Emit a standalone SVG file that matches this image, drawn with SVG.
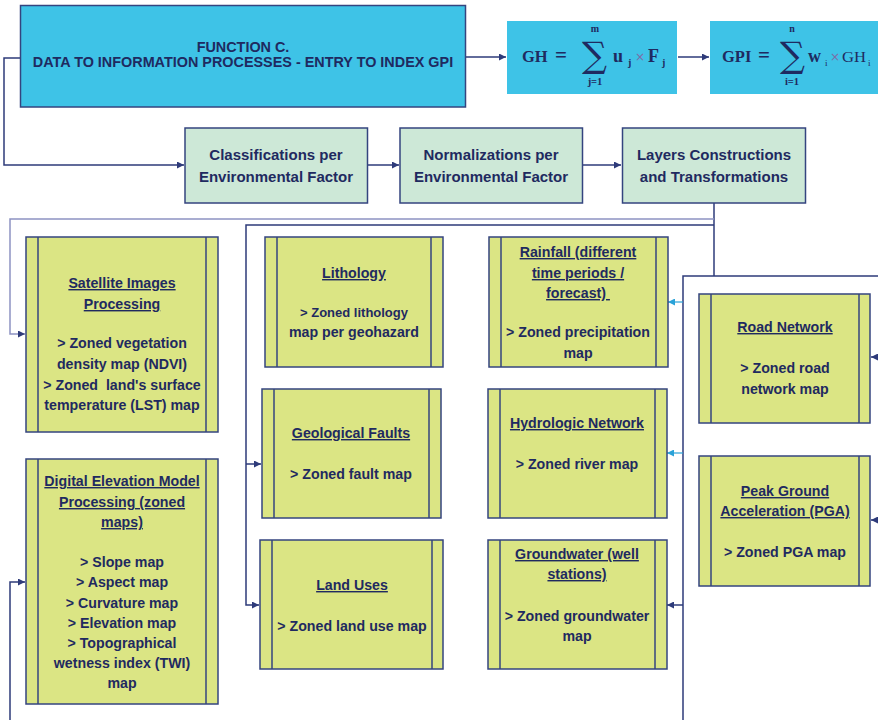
<svg xmlns="http://www.w3.org/2000/svg" width="878" height="720" viewBox="0 0 878 720">
  <style>
    .t { font-family: "Liberation Sans", Arial, sans-serif; font-weight: bold; fill: #1f2a60; text-anchor: middle; }
    .s14 { font-size: 14.2px; }
    .s15 { font-size: 15px; }
    .u { text-decoration: underline; }
    .cyan { fill: #3ec3e7; stroke: #34447f; stroke-width: 1.5; }
    .cyanf { fill: #3ec3e7; }
    .mint { fill: #cde8d7; stroke: #34447f; stroke-width: 1.5; }
    .proc { fill: #dbe584; stroke: #34447f; stroke-width: 1.5; }
    .bar { stroke: #34447f; stroke-width: 1.5; }
    .m { font-family: "Liberation Serif", "Times New Roman", serif; fill: #1f2a60; }
    .sig { font-family: "DejaVu Serif", serif; fill: #1f2a60; font-size: 35px; }
    .mb { font-weight: bold; }
    .x { font-family: "DejaVu Sans", sans-serif; fill: #7d6ca8; font-size: 12px; }
    .ln { fill: none; stroke: #2e3b7a; stroke-width: 1.5; }
    .lt { fill: none; stroke: #8d92c2; stroke-width: 1.5; }
    .lb { fill: none; stroke: #2aa2d8; stroke-width: 1.2; }
  </style>
  <defs>
    <marker id="ah" viewBox="0 0 10 10" refX="10" refY="5" markerWidth="7" markerHeight="7" markerUnits="userSpaceOnUse" orient="auto">
      <path d="M0,0 L10,5 L0,10 z" fill="#2e3b7a"/>
    </marker>
    <marker id="ahb" viewBox="0 0 10 10" refX="10" refY="5" markerWidth="7" markerHeight="7" markerUnits="userSpaceOnUse" orient="auto">
      <path d="M0,0 L10,5 L0,10 z" fill="#2aa2d8"/>
    </marker>
  </defs>

  <!-- connectors -->
  <g id="connectors">
    <path class="ln" d="M20,58 H4 V165 H184" marker-end="url(#ah)"/>
    <path class="ln" d="M466,57 H506" marker-end="url(#ah)"/>
    <path class="ln" d="M678,57 H709" marker-end="url(#ah)"/>
    <path class="ln" d="M368,165 H399" marker-end="url(#ah)"/>
    <path class="ln" d="M583,165 H621" marker-end="url(#ah)"/>
    <path class="ln" d="M714,203 V276"/>
    <path class="ln" d="M683,720 V276 H878"/>
    <path class="lt" d="M714,219 H10 V334 H25" marker-end="url(#ah)"/>
    <path class="ln" d="M714,225 H246 V605 H259" marker-end="url(#ah)"/>
    <path class="ln" d="M246,464 H261" marker-end="url(#ah)"/>
    <path class="lb" d="M683,302 H668" marker-end="url(#ahb)"/>
    <path class="lb" d="M683,453 H667" marker-end="url(#ahb)"/>
    <path class="ln" d="M683,605 H667" marker-end="url(#ah)"/>
    <path class="ln" d="M878,357 H871" marker-end="url(#ah)"/>
    <path class="ln" d="M878,520 H871" marker-end="url(#ah)"/>
    <path class="ln" d="M10,720 V582 H25" marker-end="url(#ah)"/>
  </g>

  <!-- top row -->
  <g id="function-c">
    <rect class="cyan" x="20.5" y="5.5" width="445" height="101.5"/>
    <text class="t" x="243" y="52" font-size="14.4">FUNCTION C.</text>
    <text class="t" x="243" y="67" font-size="14.4">DATA TO INFORMATION PROCESSES - ENTRY TO INDEX GPI</text>
  </g>

  <g id="gh">
    <rect class="cyanf" x="507" y="21" width="170" height="73"/>
    <text class="m mb" x="522" y="62" font-size="16.5">GH</text>
    <text class="m mb" x="555" y="62" font-size="21">=</text>
    <text class="sig" x="582" y="67">∑</text>
    <text class="m mb" x="595" y="32" font-size="10" text-anchor="middle">m</text>
    <text class="m mb" x="595" y="85" font-size="10.5" text-anchor="middle">j=1</text>
    <text class="m mb" x="613" y="62" font-size="18">u</text>
    <text class="m mb" x="628" y="66" font-size="10">j</text>
    <text class="x" x="635" y="61">×</text>
    <text class="m mb" x="648" y="62" font-size="18">F</text>
    <text class="m mb" x="662" y="66" font-size="10">j</text>
  </g>

  <g id="gpi">
    <rect class="cyanf" x="710" y="21" width="168" height="73"/>
    <text class="m mb" x="722" y="62" font-size="16.5">GPI</text>
    <text class="m mb" x="758" y="62" font-size="21">=</text>
    <text class="sig" x="780" y="67">∑</text>
    <text class="m mb" x="792" y="32" font-size="10" text-anchor="middle">n</text>
    <text class="m mb" x="792" y="85" font-size="10.5" text-anchor="middle">i=1</text>
    <text class="m mb" x="808" y="62" font-size="18">w</text>
    <text class="m" x="825" y="66" font-size="9">i</text>
    <text class="x" x="830" y="61">×</text>
    <text class="m" x="842" y="62" font-size="15" textLength="24" lengthAdjust="spacingAndGlyphs">GH</text>
    <text class="m" x="868" y="66" font-size="9">i</text>
  </g>

  <!-- second row -->
  <g id="classifications">
    <rect class="mint" x="185" y="128" width="182.5" height="75"/>
    <text class="t s15" x="276" y="160">Classifications per</text>
    <text class="t s15" x="276" y="182">Environmental Factor</text>
  </g>
  <g id="normalizations">
    <rect class="mint" x="400" y="128" width="182.5" height="75"/>
    <text class="t s15" x="491" y="160">Normalizations per</text>
    <text class="t s15" x="491" y="182">Environmental Factor</text>
  </g>
  <g id="layers">
    <rect class="mint" x="622.5" y="128" width="183" height="75"/>
    <text class="t s15" x="714" y="160">Layers Constructions</text>
    <text class="t s15" x="714" y="182">and Transformations</text>
  </g>

  <!-- processing boxes -->
  <g id="satellite">
    <rect class="proc" x="26" y="237" width="192" height="195"/>
    <line class="bar" x1="38" y1="237" x2="38" y2="432"/>
    <line class="bar" x1="206" y1="237" x2="206" y2="432"/>
    <text class="t s14 u" x="122" y="288">Satellite Images</text>
    <text class="t s14 u" x="122" y="309">Processing</text>
    <text class="t s14" x="122" y="348">&gt; Zoned vegetation</text>
    <text class="t s14" x="122" y="369">density map (NDVI)</text>
    <text class="t s14" x="122" y="390" xml:space="preserve">&gt; Zoned  land's surface</text>
    <text class="t s14" x="122" y="410">temperature (LST) map</text>
  </g>

  <g id="dem">
    <rect class="proc" x="26" y="459" width="192" height="245"/>
    <line class="bar" x1="38" y1="459" x2="38" y2="704"/>
    <line class="bar" x1="206" y1="459" x2="206" y2="704"/>
    <text class="t s14 u" x="122" y="486">Digital Elevation Model</text>
    <text class="t s14 u" x="122" y="507">Processing (zoned</text>
    <text class="t s14 u" x="122" y="527">maps)</text>
    <text class="t s14" x="122" y="567">&gt; Slope map</text>
    <text class="t s14" x="122" y="587">&gt; Aspect map</text>
    <text class="t s14" x="122" y="608">&gt; Curvature map</text>
    <text class="t s14" x="122" y="628">&gt; Elevation map</text>
    <text class="t s14" x="122" y="648">&gt; Topographical</text>
    <text class="t s14" x="122" y="668">wetness index (TWI)</text>
    <text class="t s14" x="122" y="688">map</text>
  </g>

  <g id="lithology">
    <rect class="proc" x="265" y="237" width="178" height="130"/>
    <line class="bar" x1="277" y1="237" x2="277" y2="367"/>
    <line class="bar" x1="431" y1="237" x2="431" y2="367"/>
    <text class="t s14 u" x="354" y="278">Lithology</text>
    <text class="t" x="354" y="317" font-size="13">&gt; Zoned lithology</text>
    <text class="t s14" x="354" y="337">map per geohazard</text>
  </g>

  <g id="faults">
    <rect class="proc" x="262" y="389" width="179" height="129"/>
    <line class="bar" x1="274" y1="389" x2="274" y2="518"/>
    <line class="bar" x1="429" y1="389" x2="429" y2="518"/>
    <text class="t s14 u" x="351" y="438">Geological Faults</text>
    <text class="t s14" x="351" y="479">&gt; Zoned fault map</text>
  </g>

  <g id="land-uses">
    <rect class="proc" x="260" y="540" width="183" height="129"/>
    <line class="bar" x1="272" y1="540" x2="272" y2="669"/>
    <line class="bar" x1="432" y1="540" x2="432" y2="669"/>
    <text class="t s14 u" x="352" y="590">Land Uses</text>
    <text class="t s14" x="352" y="631">&gt; Zoned land use map</text>
  </g>

  <g id="rainfall">
    <rect class="proc" x="489" y="237" width="179" height="130"/>
    <line class="bar" x1="501" y1="237" x2="501" y2="367"/>
    <line class="bar" x1="656" y1="237" x2="656" y2="367"/>
    <text class="t s14 u" x="578" y="257">Rainfall (different</text>
    <text class="t s14 u" x="578" y="278">time periods /</text>
    <text class="t s14 u" x="578" y="298" xml:space="preserve">forecast) </text>
    <text class="t s14" x="578" y="337">&gt; Zoned precipitation</text>
    <text class="t s14" x="578" y="358">map</text>
  </g>

  <g id="hydrologic">
    <rect class="proc" x="488" y="389" width="179" height="129"/>
    <line class="bar" x1="500" y1="389" x2="500" y2="518"/>
    <line class="bar" x1="655" y1="389" x2="655" y2="518"/>
    <text class="t s14 u" x="577" y="428">Hydrologic Network</text>
    <text class="t s14" x="577" y="469">&gt; Zoned river map</text>
  </g>

  <g id="groundwater">
    <rect class="proc" x="488" y="540" width="179" height="129"/>
    <line class="bar" x1="500" y1="540" x2="500" y2="669"/>
    <line class="bar" x1="655" y1="540" x2="655" y2="669"/>
    <text class="t s14 u" x="577" y="559">Groundwater (well</text>
    <text class="t s14 u" x="577" y="579">stations)</text>
    <text class="t s14" x="577" y="621">&gt; Zoned groundwater</text>
    <text class="t s14" x="577" y="641">map</text>
  </g>

  <g id="road-network">
    <rect class="proc" x="699" y="294" width="171" height="129"/>
    <line class="bar" x1="711" y1="294" x2="711" y2="423"/>
    <line class="bar" x1="859" y1="294" x2="859" y2="423"/>
    <text class="t s14 u" x="785" y="332">Road Network</text>
    <text class="t s14" x="785" y="373">&gt; Zoned road</text>
    <text class="t s14" x="785" y="394">network map</text>
  </g>

  <g id="pga">
    <rect class="proc" x="699" y="456" width="171" height="130"/>
    <line class="bar" x1="711" y1="456" x2="711" y2="586"/>
    <line class="bar" x1="859" y1="456" x2="859" y2="586"/>
    <text class="t s14 u" x="785" y="496">Peak Ground</text>
    <text class="t s14 u" x="785" y="516">Acceleration (PGA)</text>
    <text class="t s14" x="785" y="557">&gt; Zoned PGA map</text>
  </g>
</svg>
